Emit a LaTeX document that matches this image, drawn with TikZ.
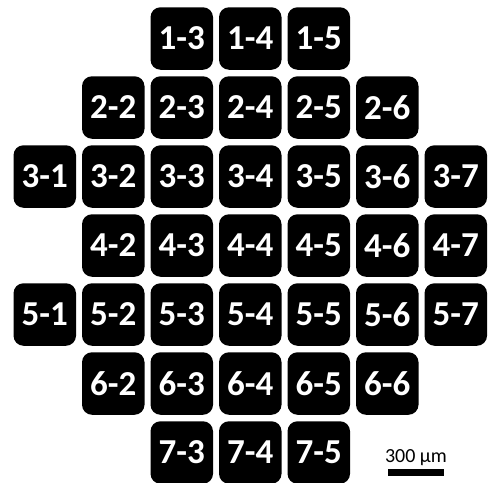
\documentclass[tikz,border=0pt]{standalone}
\usepackage{fontspec}
\setmainfont{Carlito}
\begin{document}
\begin{tikzpicture}[x=1pt,y=-1pt,
  chip/.style={fill=black,rounded corners=10pt,minimum width=62.5pt,minimum height=62.5pt,inner sep=0pt,
    text=white,font=\bfseries\fontsize{35}{35}\selectfont},
  scalebar/.style={fill=black,draw=none},
  scaletext/.style={font=\fontsize{20}{20}\selectfont,inner sep=0pt,anchor=base}]
\useasboundingbox (0,0) rectangle (489,482);
\clip (0,0) rectangle (489,482);
\foreach \r/\cols in {1/{3,4,5},2/{2,3,4,5,6},3/{1,2,3,4,5,6,7},4/{2,3,4,5,6,7},5/{1,2,3,4,5,6,7},6/{2,3,4,5,6},7/{3,4,5}}{
  \foreach \c in \cols {
    \node[chip] (n\r\c) at ({44.75+68.5*(\c-1)},{38.5+69*(\r-1)}) {\r-\c};
  }
}
\fill[scalebar] (388.3,469) rectangle (444.3,476);
\node[scaletext] (scale) at (416,462.7) {300 μm};
\end{tikzpicture}
\end{document}
